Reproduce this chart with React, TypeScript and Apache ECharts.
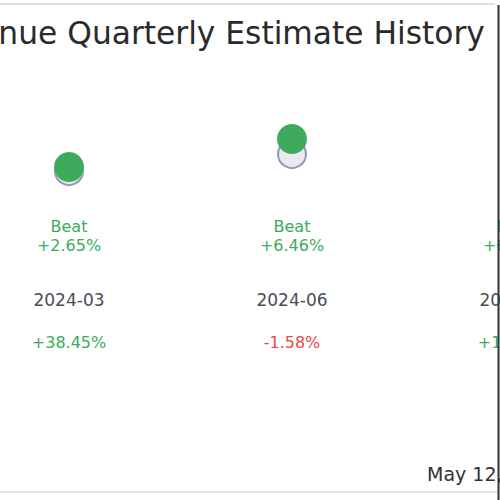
import * as echarts from "echarts";
import { useEffect, useRef } from "react";

// quarters shown (third one is cut off by the right edge)
const quarters = ["2024-03", "2024-06", "2024-09"];
// revenue, $M (read from circle positions)
const actualRevenue = [633, 661, 690];
const estimateRevenue = [629, 646, 660];
// surprise text under each quarter
const surpriseLabels = ["Beat", "Beat", "Beat"];
const surprisePct = ["+2.65%", "+6.46%", "+6.10%"];
// year over year growth
const growthPct = ["+38.45%", "-1.58%", "+12.40%"];

const GREEN = "#3dab5b";
const RED = "#e8494b";
const FONT = "DejaVu Sans";

function App() {
  const containerRef = useRef<HTMLDivElement>(null);

  useEffect(() => {
    if (!containerRef.current) return;
    const chart = echarts.init(containerRef.current, null, { renderer: "svg" });

    const hiddenAxis = {
      type: "category" as const,
      data: quarters,
      position: "bottom" as const,
      boundaryGap: true,
      axisLine: { show: false },
      axisTick: { show: false },
      splitLine: { show: false },
    };

    chart.setOption({
      animation: false,
      textStyle: { fontFamily: FONT },
      grid: {
        left: 57.5,
        right: 33.5,
        top: 60,
        bottom: 300,
        outerBoundsMode: "none",
      },
      xAxis: [
        {
          ...hiddenAxis,
          axisLabel: {
            interval: 0,
            margin: 16.5,
            fontSize: 16,
            lineHeight: 19,
            formatter: (_v: string, i: number) =>
              `${surpriseLabels[i]}\n${surprisePct[i]}`,
            color: (_v: string, i: number) =>
              surpriseLabels[i] === "Beat" ? GREEN : RED,
          },
        },
        {
          ...hiddenAxis,
          offset: 90,
          axisLabel: {
            interval: 0,
            margin: 0,
            fontSize: 17,
            lineHeight: 20,
            color: "#4b4b58",
          },
        },
        {
          ...hiddenAxis,
          offset: 132,
          axisLabel: {
            interval: 0,
            margin: 0,
            fontSize: 16,
            lineHeight: 20,
            formatter: (_v: string, i: number) => growthPct[i],
            color: (_v: string, i: number) =>
              growthPct[i].startsWith("-") ? RED : GREEN,
          },
        },
      ],
      yAxis: {
        type: "value",
        min: 600,
        max: 740,
        show: false,
      },
      series: [
        {
          name: "Estimate",
          type: "scatter",
          data: estimateRevenue,
          symbolSize: 28,
          itemStyle: { color: "#e4e4ea", borderColor: "#7d7fa6", borderWidth: 2 },
          z: 2,
        },
        {
          name: "Actual",
          type: "scatter",
          data: actualRevenue,
          symbolSize: 30,
          itemStyle: { color: GREEN, opacity: 1 },
          z: 3,
        },
      ],
      graphic: [
        {
          type: "text",
          x: 21,
          y: 33,
          style: {
            text: "Revenue Quarterly Estimate History",
            font: `31.3px "${FONT}"`,
            fill: "#2a2a2a",
            verticalAlign: "middle",
          },
        },
        {
          type: "line",
          shape: { x1: 0, y1: 4, x2: 595, y2: 4 },
          style: { stroke: "#dde2ea", lineWidth: 2 },
        },
        {
          type: "line",
          shape: { x1: 0, y1: 492, x2: 597, y2: 492 },
          style: { stroke: "#d6d8dc", lineWidth: 1.5 },
        },
        {
          type: "text",
          x: 527,
          y: 474,
          style: {
            text: "May 12, 2025",
            font: `19px "${FONT}"`,
            fill: "#333",
            verticalAlign: "middle",
          },
        },
        {
          type: "line",
          z: 100,
          shape: { x1: 598.5, y1: 5, x2: 598.5, y2: 500 },
          style: { stroke: "#333", lineWidth: 2 },
        },
      ],
    });

    return () => {
      chart.dispose();
    };
  }, []);

  return (
    <div
      style={{
        position: "absolute",
        left: 0,
        top: 0,
        width: 500,
        height: 500,
        overflow: "hidden",
        background: "#fff",
      }}
    >
      <div
        ref={containerRef}
        style={{ position: "absolute", left: -100, top: 0, width: 760, height: 500 }}
      />
    </div>
  );
}

export default App;
